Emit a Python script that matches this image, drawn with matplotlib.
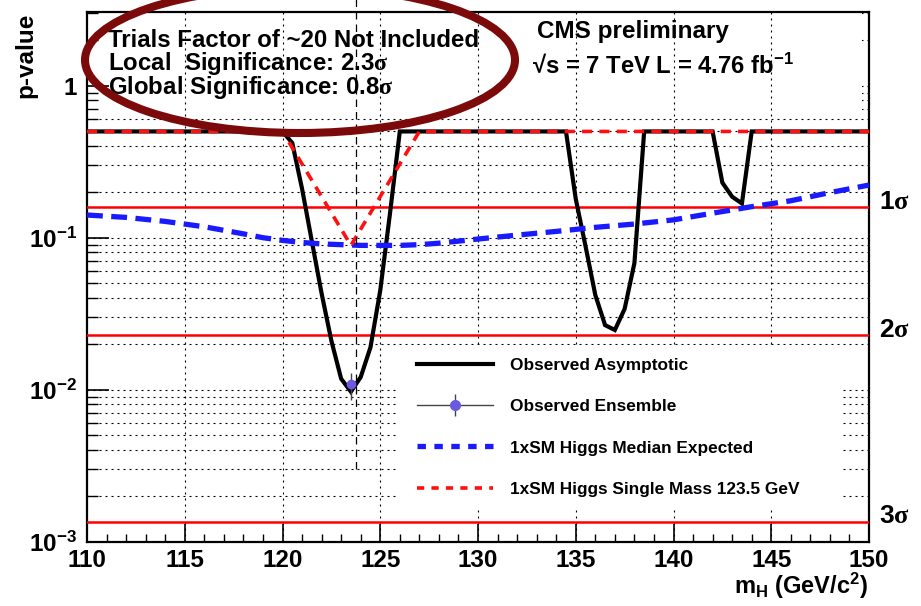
import matplotlib
matplotlib.use("Agg")
import matplotlib.pyplot as plt
from matplotlib.patches import Ellipse, Rectangle
from matplotlib.lines import Line2D
from matplotlib.ticker import FixedLocator, MultipleLocator, NullFormatter
from matplotlib.transforms import blended_transform_factory

plt.rcParams["font.family"] = ["Liberation Sans", "DejaVu Sans"]
plt.rcParams["font.weight"] = "bold"
plt.rcParams["mathtext.fontset"] = "custom"
plt.rcParams["mathtext.rm"] = "Liberation Serif"
plt.rcParams["mathtext.bf"] = "Liberation Sans:bold"
plt.rcParams["mathtext.sf"] = "Liberation Sans:bold"
plt.rcParams["mathtext.it"] = "Liberation Sans:bold:italic"
plt.rcParams["mathtext.default"] = "bf"

# ---- data -------------------------------------------------------------
# observed local p-value (asymptotic), capped at 0.5
mass_obs = [110, 120, 120.5, 121, 121.5, 122, 122.5, 123, 123.5, 124, 124.5,
            125, 125.5, 126, 134.5, 135, 135.5, 136, 136.5, 137, 137.5, 138,
            138.5, 142, 142.5, 143, 143.5, 144, 150]
p_obs = [0.5, 0.5, 0.42, 0.21, 0.095, 0.043, 0.021, 0.0118, 0.0097, 0.0121,
         0.019, 0.045, 0.145, 0.5, 0.5, 0.18, 0.088, 0.042, 0.0266, 0.0247,
         0.034, 0.068, 0.5, 0.5, 0.23, 0.186, 0.168, 0.5, 0.5]

# observed p-value from toy ensemble at the best-fit mass
mass_ens = [123.5]
p_ens = [0.0109]
p_ens_lo = [0.00855]
p_ens_hi = [0.0129]

# median expected p-value for a 1xSM Higgs
mass_exp = [110, 112, 114, 116, 118, 119, 120, 121, 122, 123, 124, 125, 126,
            127, 128, 130, 132, 134, 136, 138, 140, 142, 144, 146, 148, 150]
p_exp = [0.141, 0.136, 0.128, 0.118, 0.106, 0.100, 0.096, 0.093, 0.091,
         0.090, 0.089, 0.089, 0.089, 0.090, 0.092, 0.098, 0.104, 0.110,
         0.117, 0.123, 0.131, 0.145, 0.160, 0.175, 0.198, 0.222]

# expected p-value for a single SM Higgs at 123.5 GeV
mass_sm = [110, 120, 123.5, 127, 150]
p_sm = [0.5, 0.5, 0.089, 0.5, 0.5]

# marker line for the best-fit mass
mass_mark = 123.75
p_mark_low = 0.003

# significance reference levels
sigma_labels = ["1", "2", "3"]
sigma_p = [0.1587, 0.02275, 0.00135]

x_ticks = [110, 115, 120, 125, 130, 135, 140, 145, 150]
y_ticks = [1e-3, 1e-2, 1e-1, 1]
y_ticklabels = [r"$10^{-3}$", r"$10^{-2}$", r"$10^{-1}$", "1"]
x_range = (110, 150)
y_range = (1e-3, 3.04)

header_lines = ["Trials Factor of ~20 Not Included",
                r"Local  Significance: 2.3$\mathrm{\sigma}$",
                r"Global Significance: 0.8$\mathrm{\sigma}$"]
legend_labels = ["Observed Asymptotic", "Observed Ensemble",
                 "1xSM Higgs Median Expected",
                 "1xSM Higgs Single Mass 123.5 GeV"]

# ---- figure -----------------------------------------------------------
W, H = 921, 606
fig = plt.figure(figsize=(W / 100, H / 100), dpi=100)
ax_l, ax_r, ax_t, ax_b = 87, 869, 12.3, 541.7
ax = fig.add_axes([ax_l / W, 1 - ax_b / H, (ax_r - ax_l) / W, (ax_b - ax_t) / H])
ax.set_yscale("log")
ax.set_xlim(*x_range)
ax.set_ylim(*y_range)

def fx(px):
    return px / W

def fy(py):
    return 1 - py / H

def axx(px):
    return (px - ax_l) / (ax_r - ax_l)

def axy(py):
    return (ax_b - py) / (ax_b - ax_t)

# dotted grid: horizontal at every log tick, vertical at major mass ticks
dot = (0, (1.8, 3.6))
for e in (-3, -2, -1, 0):
    for k in range(1, 10):
        v = k * 10.0 ** e
        if y_range[0] < v < y_range[1]:
            ax.axhline(v, color="black", lw=0.8, ls=dot, zorder=1)

# white pave behind the header text hides the horizontal grid there
ax.add_patch(Rectangle((0, axy(114)), axx(862), 1 - axy(114),
                       transform=ax.transAxes, facecolor="white",
                       edgecolor="none", zorder=1.5))

for v in x_ticks[1:-1]:
    ax.axvline(v, color="black", lw=0.8, ls=dot, zorder=2)

# legend pave
ax.add_patch(Rectangle((axx(398), axy(507)), axx(842) - axx(398),
                       axy(345) - axy(507), transform=ax.transAxes,
                       facecolor="white", edgecolor="none", zorder=2.5))

# significance levels
for lab, p in zip(sigma_labels, sigma_p):
    ax.axhline(p, color="red", lw=1.8, zorder=3)
    ax.annotate(lab + r"$\mathrm{\sigma}$", xy=(1, p),
                xycoords=blended_transform_factory(ax.transAxes, ax.transData),
                xytext=(7, 4), textcoords="offset points",
                ha="left", va="center", fontsize=19, fontweight="bold",
                annotation_clip=False)

# curves
ax.plot(mass_obs, p_obs, color="black", lw=3.0, zorder=4,
        solid_joinstyle="miter")
ax.plot(mass_exp, p_exp, color="#1a1aff", lw=3.8, ls=(0, (3.0, 1.6)),
        zorder=5)
ax.plot(mass_sm, p_sm, color="#ff1010", lw=2.6, ls=(0, (2.8, 2.0)),
        zorder=6)
ax.plot([mass_mark, mass_mark], [p_mark_low, y_range[1] * 1.3],
        color="black", lw=0.9, ls=(0, (6, 4)), zorder=6.5, clip_on=False)

yerr = [[p_ens[0] - p_ens_lo[0]], [p_ens_hi[0] - p_ens[0]]]
ax.errorbar(mass_ens, p_ens, yerr=yerr, fmt="o", color="#6a5ae0",
            ms=6, ecolor="#444444", elinewidth=1.0, capsize=0, zorder=7)

# axes styling
for s in ax.spines.values():
    s.set_linewidth(1.6)
ax.xaxis.set_major_locator(FixedLocator(x_ticks))
ax.xaxis.set_minor_locator(MultipleLocator(1))
ax.set_xticklabels([str(t) for t in x_ticks])
ax.set_yticks(y_ticks)
ax.set_yticklabels(y_ticklabels)
ax.yaxis.set_minor_locator(FixedLocator(
    [k * 10.0 ** e for e in (-3, -2, -1, 0) for k in range(2, 10)
     if k * 10.0 ** e < y_range[1]]))
ax.yaxis.set_minor_formatter(NullFormatter())
ax.tick_params(axis="x", which="major", direction="in", length=13, width=1.2,
               labelsize=17.5, pad=5)
ax.tick_params(axis="x", which="minor", direction="in", length=6, width=1.0)
ax.tick_params(axis="y", which="major", direction="in", length=16, width=1.2,
               labelsize=17.5, pad=7)
ax.tick_params(axis="y", which="minor", direction="in", length=8, width=1.0)
for lbl in ax.get_xticklabels() + ax.get_yticklabels():
    lbl.set_fontweight("bold")

fig.text(fx(25.5), fy(13), "p-value", rotation=90, ha="center", va="top",
         fontsize=17.5, fontweight="bold")
fig.text(fx(868), fy(594), r"m$_{\mathbf{H}}$ (GeV/c$^{2}$)", ha="right",
         va="baseline", fontsize=17, fontweight="bold")

# header text
fig.text(fx(108), fy(29), "\n".join(header_lines), fontsize=17.3,
         fontweight="bold", va="top", ha="left", linespacing=0.88)
fig.text(fx(537), fy(38), "CMS preliminary", fontsize=17.5,
         fontweight="bold", va="baseline")
fig.text(fx(532), fy(74), "\u221as = 7 TeV L = 4.76 fb$^{-1}$", fontsize=17.2,
         fontweight="bold", va="baseline")

# highlight ring
ring = Ellipse((fx(300), fy(60)), 430 / W, 146 / H, transform=fig.transFigure,
               facecolor="none", edgecolor="#7c0a0a", lw=5.8, zorder=20,
               clip_on=False)
fig.add_artist(ring)

# legend
h_obs = Line2D([], [], color="black", lw=3.0)
h_ens = (Line2D([], [], color="#444444", lw=1.0),
         Line2D([], [], ls="none", marker="|", ms=16, mew=1.0, color="#444444"),
         Line2D([], [], ls="none", marker="o", ms=7, color="#6a5ae0"))
h_exp = Line2D([], [], color="#1a1aff", lw=3.8, ls=(0, (1.6, 1.6)))
h_sm = Line2D([], [], color="#ff1010", lw=2.6, ls=(0, (2.0, 2.0)))
leg = ax.legend([h_obs, h_ens, h_exp, h_sm], legend_labels,
                loc="upper left", bbox_to_anchor=(fx(417), fy(358)),
                bbox_transform=fig.transFigure, frameon=False,
                prop={"size": 12.4, "weight": "bold"}, handlelength=4.42,
                handletextpad=1.0, labelspacing=1.52, borderpad=0,
                borderaxespad=0)
leg.set_zorder(8)

fig.savefig("out.png", dpi=100)
